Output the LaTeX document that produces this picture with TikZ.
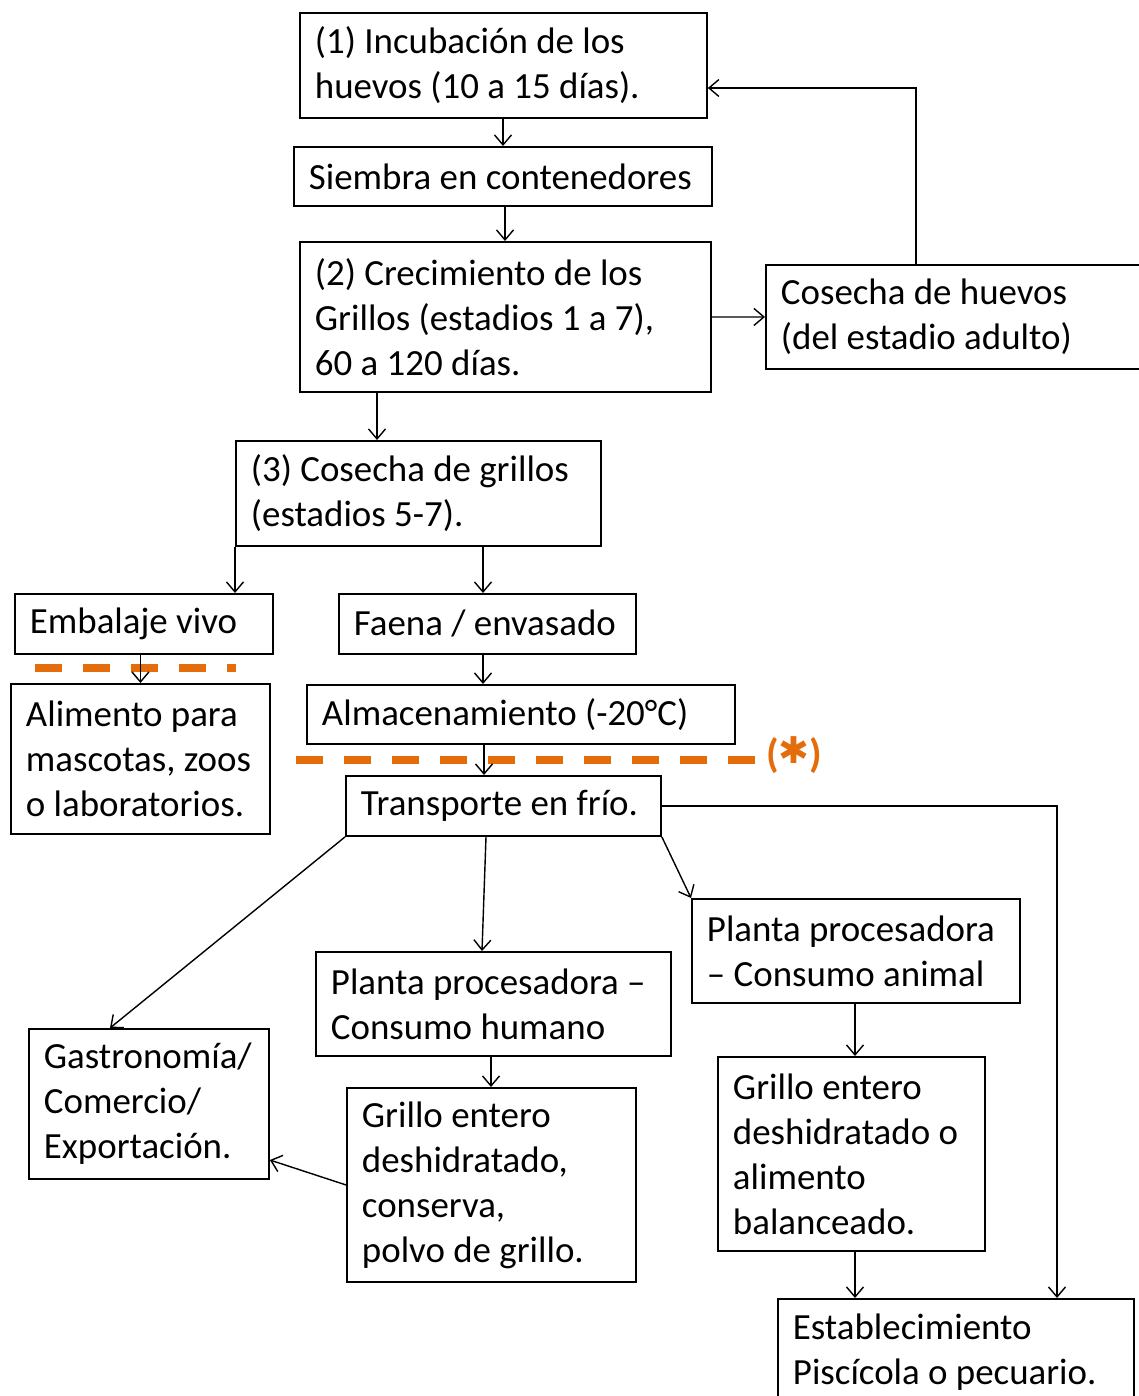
\documentclass[tikz,border=0pt]{standalone}
\usepackage{fontspec}
\setmainfont{Carlito}
\newfontfamily\symfont{DejaVu Sans}
\usepackage{xcolor}
\usepackage{graphicx}
\usetikzlibrary{positioning,arrows.meta,calc}
\definecolor{cutorange}{RGB}{228,108,10}

\begin{document}
\begin{tikzpicture}[
    x=0.02cm, y=-0.02cm,
    box/.style={draw, line width=1.1pt, anchor=north west, align=left,
                inner xsep=0.3cm, inner ysep=0pt,
                font=\fontsize{21pt}{25.6pt}\selectfont,
                execute at begin node={\spaceskip=0pt\xspaceskip=0pt}},
    arrow/.style={-{Straight Barb[length=2mm,width=3.4mm]}, line width=0.8pt},
    cut/.style={draw=cutorange, line width=4pt, dash pattern=on 0.54cm off 0.42cm},
  ]

  \useasboundingbox (0,0) rectangle (1139,1396);
  \clip (0,0) rectangle (1139,1396);

  % Breeding
  \node[box, text width=7.54cm, minimum height=2.1cm] (inc) at (299,12)
    {(1) Incubación de los\\huevos (10 a 15 días).};
  \node[box, text width=7.76cm, minimum height=1.18cm] (siem) at (293,146)
    {Siembra en contenedores};
  \node[box, text width=7.62cm, minimum height=3cm] (crec) at (299,241)
    {(2) Crecimiento de los\\Grillos (estadios 1 a 7),\\60 a 120 días.};
  \node[box, text width=7.2cm, minimum height=2.08cm] (cosh) at (765,264)
    {Cosecha de huevos\\(del estadio adulto)};

  % Harvest
  \node[box, text width=6.7cm, minimum height=2.1cm] (cosg) at (235,440)
    {(3) Cosecha de grillos\\(estadios 5-7).};
  \node[box, text width=4.56cm, minimum height=1.2cm] (emb) at (14,593)
    {Embalaje vivo};
  \node[box, text width=5.34cm, minimum height=1.2cm] (faena) at (338,593)
    {Faena / envasado};
  \node[box, text width=4.58cm, minimum height=3cm] (alim) at (10,683)
    {Alimento para\\mascotas, zoos\\o laboratorios.};
  \node[box, text width=7.96cm, minimum height=1.18cm] (alma) at (306,684)
    {Almacenamiento (-20°C)};
  \node[box, text width=5.7cm, minimum height=1.2cm] (trans) at (345,775)
    {Transporte en frío.};

  % Processing
  \node[box, text width=5.96cm, minimum height=2.08cm] (ppa) at (691,898)
    {Planta procesadora\\– Consumo animal};
  \node[box, text width=6.5cm, minimum height=2.08cm] (pph) at (315,951)
    {Planta procesadora –\\Consumo humano};
  \node[box, text width=4.2cm, minimum height=3cm] (gastro) at (28,1028)
    {Gastronomía/\\Comercio/\\Exportación.};
  \node[box, text width=5.18cm, minimum height=3.88cm] (grilloh) at (346,1087)
    {Grillo entero\\deshidratado,\\conserva,\\polvo de grillo.};
  \node[box, text width=4.74cm, minimum height=3.88cm] (grilloa) at (717,1056)
    {Grillo entero\\deshidratado o\\alimento\\balanceado.};
  \node[box, text width=6.52cm, minimum height=2.12cm] (estab) at (777,1298)
    {Establecimiento\\Piscícola o pecuario.};

  % Cold chain marks
  \node[anchor=west, inner sep=0pt, text=cutorange,
        font=\fontsize{23pt}{25pt}\selectfont\bfseries] (ast) at (766,755)
    {(\raisebox{0.08em}{\symfont\fontsize{21pt}{21pt}\selectfont ✱})};
  \draw[cut] (35,668) -- (236,668);
  \draw[cut] (296,760) -- (ast.west |- 0,760);

  % Arrows
  \draw[arrow] (inc.south -| 503,0) -- (siem.north -| 503,0);
  \draw[arrow] (siem.south -| 505,0) -- (crec.north -| 505,0);
  \draw[arrow] (crec.east) -- (cosh.west);
  \draw[arrow] (cosh.north -| 916,0) |- (inc.east |- 0,88);
  \draw[arrow] (crec.south -| 377,0) -- (cosg.north -| 377,0);
  \draw[arrow] (cosg.south west) -- (cosg.south west |- emb.north);
  \draw[arrow] (cosg.south -| 483,0) -- (faena.north -| 483,0);
  \draw[arrow] (alim.north |- emb.south) -- (alim.north);
  \draw[arrow] (faena.south -| 483,0) -- (alma.north -| 483,0);
  \draw[arrow] (alma.south -| 484,0) -- (trans.north -| 484,0);
  \draw[arrow] (trans.south west) -- (gastro.north -| 110,0);
  \draw[arrow] (trans.south -| 486,0) -- (pph.north -| 482,0);
  \draw[arrow] (trans.south east) -- (ppa.north west);
  \draw[arrow] (trans.east) -| (estab.north -| 1057,0);
  \draw[arrow] (ppa.south -| 855,0) -- (grilloa.north -| 855,0);
  \draw[arrow] (pph.south -| 491,0) -- (grilloh.north -| 491,0);
  \draw[arrow] (grilloh.west) -- (gastro.east |- 0,1160);
  \draw[arrow] (grilloa.south -| 855,0) -- (estab.north -| 855,0);

\end{tikzpicture}
\end{document}
